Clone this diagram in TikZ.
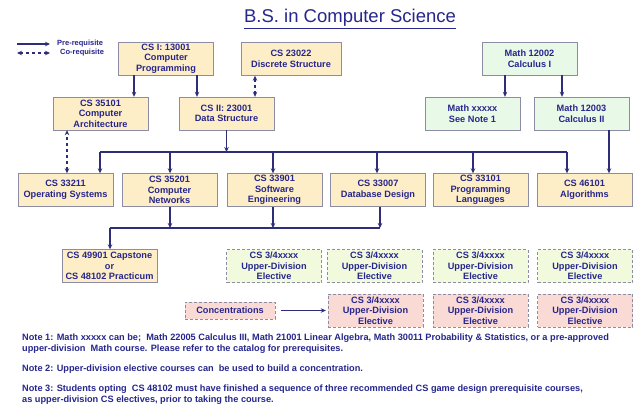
\documentclass[tikz,border=0pt]{standalone}
\usepackage{fontspec}
\setmainfont{Liberation Sans}
\usetikzlibrary{arrows.meta, positioning}
\definecolor{navy}{RGB}{38,38,140}
\definecolor{linkcol}{RGB}{45,45,120}
\definecolor{boxline}{RGB}{140,140,165}
\definecolor{creamfill}{RGB}{254,238,200}
\definecolor{mathfill}{RGB}{232,249,232}
\definecolor{electfill}{RGB}{242,250,222}
\definecolor{pinkfill}{RGB}{250,218,212}
\tikzset{
	course/.style={draw=boxline, fill=creamfill, minimum width=95pt, minimum height=33pt,
		align=center, text=navy, font=\bfseries\fontsize{9.2}{10.5}\selectfont, inner sep=1pt},
	mathbox/.style={course, fill=mathfill},
	elective/.style={course, fill=electfill, densely dashed},
	concbox/.style={course, fill=pinkfill, densely dashed},
	prereq/.style={draw=linkcol, line width=1.3pt, -{Stealth[length=5pt, width=4.5pt]}},
	coreq/.style={draw=linkcol, line width=1.3pt, dashed, {Stealth[length=5pt, width=4.5pt]}-{Stealth[length=5pt, width=4.5pt]}},
	link/.style={draw=linkcol, line width=1.3pt},
	legendtxt/.style={text=navy, font=\bfseries\fontsize{7.5}{8}\selectfont, inner sep=1pt},
	notetxt/.style={text=navy, font=\bfseries\fontsize{9.2}{11}\selectfont, inner sep=0pt, align=left}
}

\begin{document}
\begin{tikzpicture}[x=1pt, y=-1pt]
	\useasboundingbox[fill=white] (0,0) rectangle (637,408);
	\node[text=navy, font=\fontsize{18.5}{21}\selectfont] (title) at (350,19) {\underline{B.S. in Computer Science}};

	% legend
	\node[legendtxt, anchor=west] (lgpre) at (56,44) {Pre-requisite};
	\node[legendtxt, anchor=west] (lgco) at (59,53) {Co-requisite};
	\coordinate (lgA) at (17,44);
	\coordinate (lgB) at (17,53);
	\draw[prereq] (lgA) -- (50,44);
	\draw[coreq] (lgB) -- (50,53);

	% first year
	\node[course] (cs1) at (166,58.5) {CS I: 13001\\Computer\\Programming};
	\node[course, minimum width=100pt] (cs23022) at (291,59) {CS 23022\\Discrete Structure};
	\node[course] (cs35101) at (100.5,113.5) {CS 35101\\Computer\\Architecture};
	\node[course] (cs2) at (226.5,113.5) {CS II: 23001\\Data Structure};
	\node[mathbox] (m12002) at (529.5,58.5) {Math 12002\\Calculus I};
	\node[mathbox] (mxxxxx) at (472.5,113.5) {Math xxxxx\\See Note 1};
	\node[mathbox] (m12003) at (581.5,113.5) {Math 12003\\Calculus II};

	% second row
	\node[course] (cs33211) at (65.5,190) {CS 33211\\Operating Systems};
	\node[course] (cs35201) at (169.5,190) {CS 35201\\Computer\\Networks};
	\node[course] (cs33901) at (274.5,190) {CS 33901\\Software\\Engineering};
	\node[course] (cs33007) at (378,190) {CS 33007\\Database Design};
	\node[course] (cs33101) at (480.5,190) {CS 33101\\Programming\\Languages};
	\node[course] (cs46101) at (584.5,190) {CS 46101\\Algorithms};

	% capstone and electives
	\node[course] (capstone) at (109.5,266) {CS 49901 Capstone\\or\\CS 48102 Practicum};
	\foreach \nm/\xx in {el1/274, el2/374.5, el3/480.5, el4/585}
		\node[elective] (\nm) at (\xx,266) {CS 3/4xxxx\\Upper-Division\\Elective};
	\node[concbox, minimum width=90pt, minimum height=17pt] (conc) at (230,310.5) {Concentrations};
	\foreach \nm/\xx in {pk1/375.5, pk2/480.5, pk3/585}
		\node[concbox] (\nm) at (\xx,310.5) {CS 3/4xxxx\\Upper-Division\\Elective};

	% prerequisite arrows
	\draw[prereq] ([xshift=-32pt]cs1.south) -- ([xshift=-32pt]cs1.south |- cs35101.north);
	\draw[prereq] ([xshift=31pt]cs1.south) -- ([xshift=31pt]cs1.south |- cs2.north);
	\draw[coreq] ([xshift=28.5pt]cs2.north) -- ([xshift=28.5pt]cs2.north |- cs23022.south);
	\draw[prereq] ([xshift=-24.5pt]m12002.south) -- ([xshift=-24.5pt]m12002.south |- mxxxxx.north);
	\draw[prereq] ([xshift=32.5pt]m12002.south) -- ([xshift=32.5pt]m12002.south |- m12003.north);
	\draw[prereq] ([xshift=27.5pt]m12003.south) -- ([xshift=27.5pt]m12003.south |- cs46101.north);
	\draw[coreq] ([xshift=1.5pt]cs33211.north) -- ([xshift=1.5pt]cs33211.north |- cs35101.south);

	% bus from data structure
	\coordinate (busL) at (100,152);
	\coordinate (busR) at (567,152);
	\draw[link] (busL) -- (busR);
	\draw[prereq] (cs2.south) -- (cs2.south |- busL);
	\foreach \nm/\dx in {cs33211/34.5, cs35201/0.5, cs33901/-1.5, cs33007/-1, cs33101/-7.5, cs46101/-17.5}
		\draw[prereq] ([xshift=\dx pt]\nm.north |- busL) -- ([xshift=\dx pt]\nm.north);

	% bus to capstone
	\coordinate (capL) at (110,228);
	\coordinate (capR) at (380,228);
	\draw[link] (capL) -- (capR);
	\draw[prereq] (capL) -- (capL |- capstone.north);
	\draw[prereq] ([xshift=0.5pt]cs35201.south) -- ([xshift=0.5pt]cs35201.south |- capL);
	\draw[prereq] ([xshift=-1.5pt]cs33901.south) -- ([xshift=-1.5pt]cs33901.south |- capL);
	\draw[prereq] (capR |- cs33007.south) -- (capR);

	\draw[prereq, shorten <=6pt, shorten >=2pt] (conc.east) -- (pk1.west);

	% notes
	\node[notetxt, anchor=north west] (note1) at (22,333.5) {Note 1: Math xxxxx can be;\ \ Math 22005 Calculus III, Math 21001 Linear Algebra, Math 30011 Probability \& Statistics, or a pre-approved\\upper-division\ \ Math course. Please refer to the catalog for prerequisites.};
	\node[notetxt, anchor=north west] (note2) at (22,364.5) {Note 2: Upper-division elective courses can\ \ be used to build a concentration.};
	\node[notetxt, anchor=north west] (note3) at (22,384.5) {Note 3: Students opting\ \ CS 48102 must have finished a sequence of three recommended CS game design prerequisite courses,\\as upper-division CS electives, prior to taking the course.};
\end{tikzpicture}
\end{document}
